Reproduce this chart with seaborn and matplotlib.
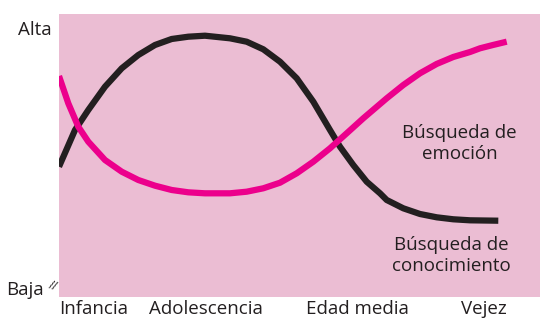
import matplotlib
matplotlib.use("Agg")
import matplotlib.pyplot as plt
import seaborn as sns
import pandas as pd

# Data (arbitrary 0-100 units)
know_x = [0, 3.33, 6.09, 9.56, 13.04, 16.49, 19.96, 23.43, 26.88, 30.35, 35.55, 39.02,
          42.47, 45.95, 49.42, 52.87, 56.34, 58.42, 61.18, 63.97, 66.74, 68.13, 71.58,
          75.05, 78.52, 81.97, 85.45, 91.33]
know_y = [46.04, 59.01, 66.08, 74.31, 80.81, 85.51, 89.05, 91.17, 91.98, 92.33, 91.41, 90.21,
          87.53, 83.14, 77.28, 69.01, 59.01, 53.11, 46.64, 40.74, 36.64, 34.28, 31.34,
          29.33, 28.16, 27.46, 27.10, 26.96]
emo_x = [0, 1.93, 4.01, 6.09, 9.56, 13.04, 16.49, 19.96, 23.43, 26.88, 30.35, 35.55, 39.02,
         42.47, 45.95, 49.42, 52.87, 56.34, 59.81, 63.26, 68.13, 71.58, 75.05, 78.52,
         81.97, 85.45, 87.53, 90.23, 93.08]
emo_y = [78.09, 68.45, 60.18, 54.88, 48.41, 44.28, 41.34, 39.33, 37.81, 36.99, 36.64, 36.64, 37.21,
         38.41, 40.39, 43.71, 47.81, 52.54, 57.84, 63.14, 70.21, 74.91, 79.05, 82.35,
         84.81, 86.57, 87.88, 89.05, 90.22]
stage_labels = ["Infancia", "Adolescencia", "Edad media", "Vejez"]
stage_pos = [7.2, 30.5, 62.1, 88.3]
y_labels = ["Baja", "Alta"]
y_pos = [3.2, 95.0]

sns.set_theme(style="white")
plt.rcParams["font.family"] = ["Open Sans", "DejaVu Sans"]

TXT = "#231F20"
fig = plt.figure(figsize=(5.4, 3.24), dpi=100)
ax = fig.add_axes([59/540, 1 - 297/324, 481/540, 283/324])
ax.set_facecolor("#EBBDD3")

df_k = pd.DataFrame({"x": know_x, "y": know_y})
df_e = pd.DataFrame({"x": emo_x, "y": emo_y})
sns.lineplot(data=df_k, x="x", y="y", ax=ax, color="#231F20", linewidth=4.5,
             sort=False, solid_capstyle="butt", solid_joinstyle="round")
sns.lineplot(data=df_e, x="x", y="y", ax=ax, color="#EC008C", linewidth=4.5,
             sort=False, solid_capstyle="butt", solid_joinstyle="round")

ax.set_xlim(0, 100)
ax.set_ylim(0, 100)
for s in ax.spines.values():
    s.set_visible(False)
ax.set_xlabel("")
ax.set_ylabel("")
ax.set_xticks(stage_pos)
ax.set_xticklabels(stage_labels, fontsize=13.5, color=TXT)
ax.set_yticks(y_pos)
ax.set_yticklabels(y_labels, fontsize=13.5, color=TXT)
ax.tick_params(axis="x", length=0, pad=2)
ax.tick_params(axis="y", length=0, pad=5)
ax.get_yticklabels()[0].set_x(-0.0166)

ax.text(83.3, 54.2, "Búsqueda de\nemoción", ha="center", va="center",
        fontsize=13.5, color=TXT, linespacing=1.2)
ax.text(81.5, 14.6, "Búsqueda de\nconocimiento", ha="center", va="center",
        fontsize=13.5, color=TXT, linespacing=1.2)
ax.text(-0.3, 3.4, "//", ha="right", va="center", fontsize=8.5, color=TXT,
        rotation=-20, rotation_mode="anchor", clip_on=False)

fig.savefig("out.png", dpi=100)
